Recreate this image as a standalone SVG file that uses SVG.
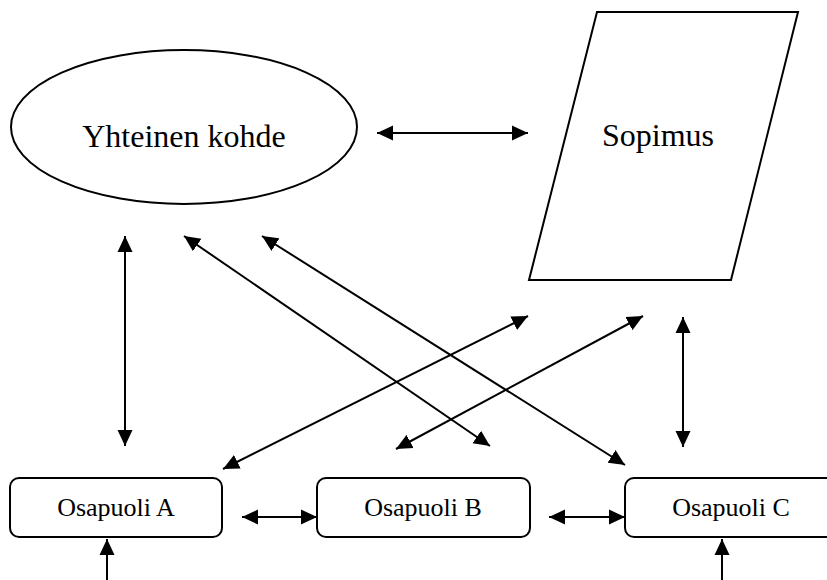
<svg xmlns="http://www.w3.org/2000/svg" width="827" height="580" viewBox="0 0 827 580">
<style>
.shape{fill:#fff;stroke:#000;stroke-width:2}
.big{font-family:"Liberation Serif","Times New Roman",serif;font-size:32px;fill:#000;text-anchor:middle}
.small{font-family:"Liberation Serif","Times New Roman",serif;font-size:26px;fill:#000;text-anchor:middle}
.conn line{stroke:#000;stroke-width:2;fill:none}
.both{marker-start:url(#ah);marker-end:url(#ah)}
.one{marker-end:url(#ah)}
</style>
<defs>
<marker id="ah" markerUnits="userSpaceOnUse" markerWidth="17" markerHeight="16" refX="16" refY="8" orient="auto-start-reverse">
<path d="M0,0.5 L16,8 L0,15.5 z" fill="#000"/>
</marker>
</defs>
<rect width="827" height="580" fill="#fff"/>
<g id="yhteinen-kohde">
<ellipse class="shape" cx="184" cy="127" rx="173" ry="77"/>
<text class="big" x="184" y="147">Yhteinen kohde</text>
</g>
<g id="sopimus">
<polygon class="shape" points="597,12 798,12 731,280 529,280"/>
<text class="big" x="658" y="146">Sopimus</text>
</g>
<g id="osapuoli-a">
<rect class="shape" x="10" y="478" width="212" height="59" rx="9"/>
<text class="small" x="116" y="516">Osapuoli A</text>
</g>
<g id="osapuoli-b">
<rect class="shape" x="317" y="478" width="213" height="59" rx="9"/>
<text class="small" x="423" y="516">Osapuoli B</text>
</g>
<g id="osapuoli-c">
<rect class="shape" x="625" y="478" width="212" height="59" rx="9"/>
<text class="small" x="731" y="516">Osapuoli C</text>
</g>
<g id="connectors" class="conn">
<line class="both" x1="377" y1="133" x2="528" y2="133"/>
<line class="both" x1="125" y1="236" x2="125" y2="446"/>
<line class="both" x1="184" y1="236" x2="490" y2="446"/>
<line class="both" x1="262" y1="236" x2="625" y2="465"/>
<line class="both" x1="528" y1="316" x2="223" y2="469"/>
<line class="both" x1="643" y1="316" x2="396" y2="449"/>
<line class="both" x1="683" y1="317" x2="683" y2="447"/>
<line class="both" x1="242" y1="517" x2="317" y2="517"/>
<line class="both" x1="549" y1="517" x2="625" y2="517"/>
<line class="one" x1="107" y1="580" x2="107" y2="539"/>
<line class="one" x1="722" y1="580" x2="722" y2="539"/>
</g>
</svg>
